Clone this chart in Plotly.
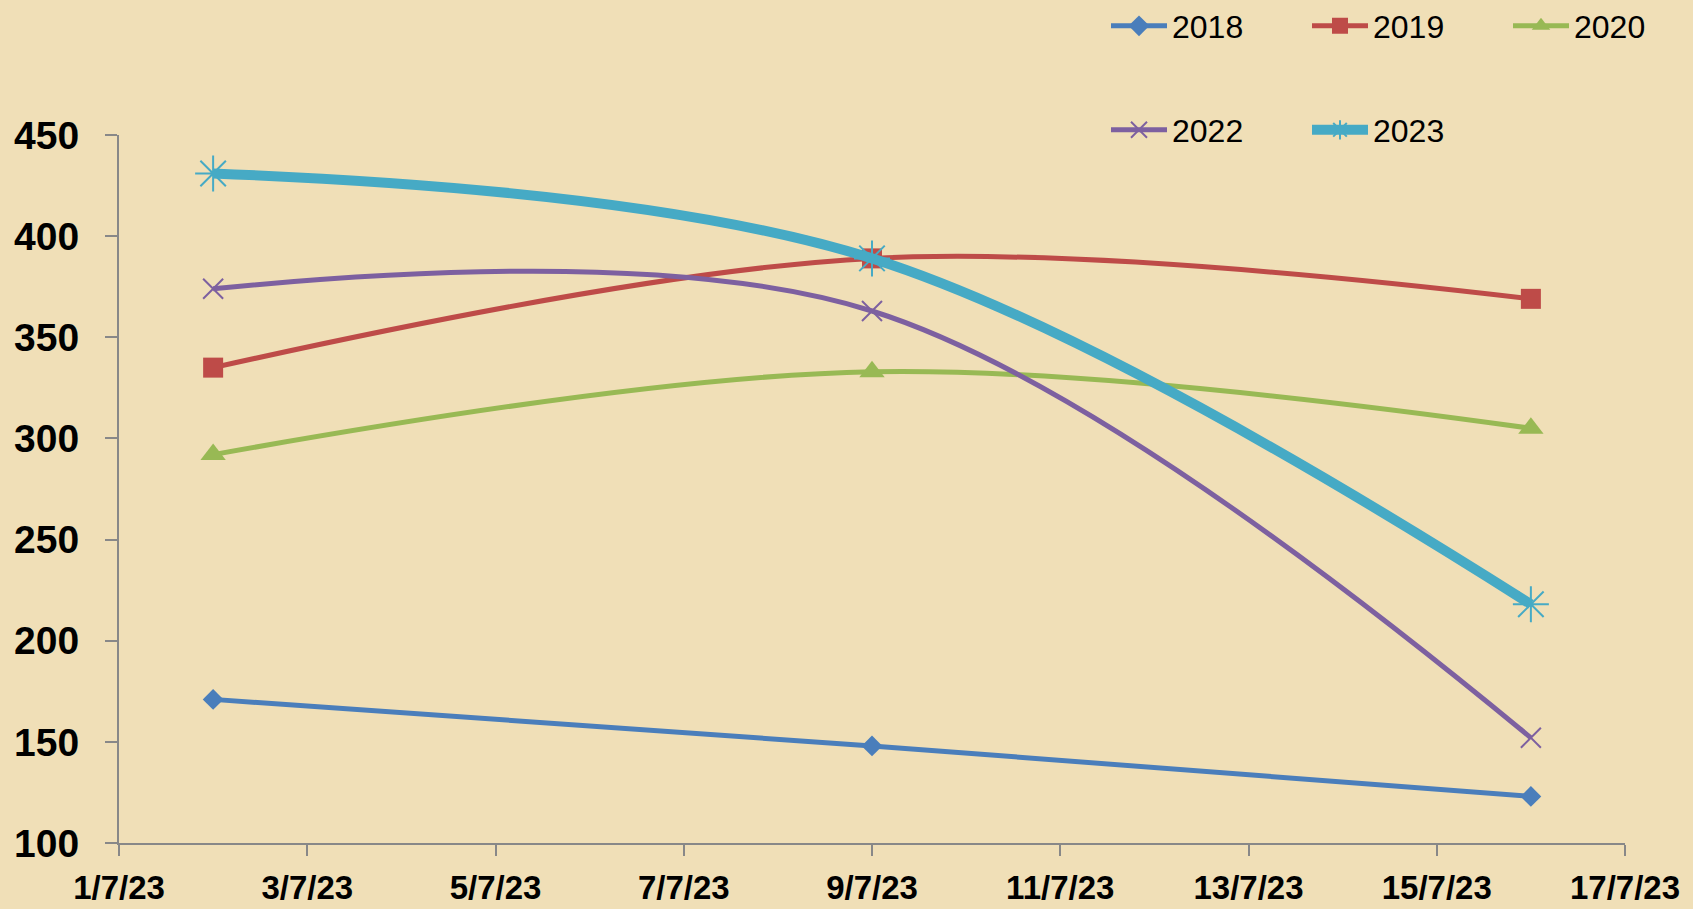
import plotly.graph_objects as go

dates = ["2023-07-02", "2023-07-09", "2023-07-16"]
series_names = ["2018", "2019", "2020", "2022", "2023"]
v2018 = [171, 148, 123]
v2019 = [335, 389, 369]
v2020 = [292, 333, 305]
v2022 = [374, 363, 152]
v2023 = [431, 389, 218]
values = [v2018, v2019, v2020, v2022, v2023]

colors = ["#4A7EBB", "#BE4B48", "#98B954", "#7D60A0", "#46AAC5"]
symbols = ["diamond", "square", "triangle-up", "x-thin-open", "asterisk-open"]
msizes = [16, 20, 22, 20, 30]
lwidths = [5, 5, 5, 5, 10]
legends = ["legend", "legend", "legend", "legend2", "legend2"]

W, H = 1693, 909
ml, mr, mt, mb = 119, 68, 135, 66
pw, ph = W - ml - mr, H - mt - mb

fig = go.Figure()
for name, vals, c, s, ms, lw, lg in zip(series_names, values, colors, symbols, msizes, lwidths, legends):
    is_open = s.endswith("open")
    fig.add_trace(go.Scatter(
        x=dates, y=vals, name=name, mode="lines+markers",
        line=dict(color=c, width=lw, shape="spline", smoothing=1.0),
        marker=dict(symbol=s, size=ms, color=c,
                    line=dict(color=c, width=2 if is_open else 0)),
        legend=lg,
    ))

def px2x(p):
    return (p - ml) / pw

def px2y(p):
    return (H - mb - p) / ph

bg = "#F0DFB7"
font_fam = "Liberation Sans Narrow, Liberation Sans, Arial, sans-serif"
leg_common = dict(orientation="h", xanchor="left", yanchor="middle",
                  font=dict(size=32, family="Liberation Sans, Arial, sans-serif", color="black"),
                  bgcolor="rgba(0,0,0,0)", itemwidth=56,
                  entrywidth=130, entrywidthmode="pixels", tracegroupgap=0)

fig.update_layout(
    width=W, height=H,
    margin=dict(l=ml, r=mr, t=mt, b=mb, autoexpand=False),
    paper_bgcolor=bg, plot_bgcolor=bg,
    showlegend=True,
    legend=dict(x=px2x(1106), y=px2y(26), **leg_common),
    legend2=dict(x=px2x(1106), y=px2y(130), **leg_common),
    xaxis=dict(
        type="date", range=["2023-07-01", "2023-07-17"],
        tick0="2023-07-01", dtick=2 * 86400000, tickformat="%-d/%-m/%y",
        showgrid=False, zeroline=False,
        showline=True, linecolor="#888888", linewidth=2,
        ticks="outside", ticklen=11, tickwidth=1.5, tickcolor="#888888",
        tickfont=dict(size=33, family=font_fam, color="black", weight="bold"),
        ticklabelstandoff=3,
    ),
    yaxis=dict(
        range=[100, 450], dtick=50, tick0=100,
        showgrid=False, zeroline=False,
        showline=True, linecolor="#888888", linewidth=2,
        ticks="outside", ticklen=12, tickwidth=1.5, tickcolor="#888888",
        tickfont=dict(size=39, family="Liberation Sans, Arial, sans-serif", color="black", weight="bold"),
        ticklabelstandoff=18,
    ),
)

fig.write_html("out.html", config={"displayModeBar": False},
               post_script="document.body.style.margin='0';document.body.style.overflow='hidden';")
